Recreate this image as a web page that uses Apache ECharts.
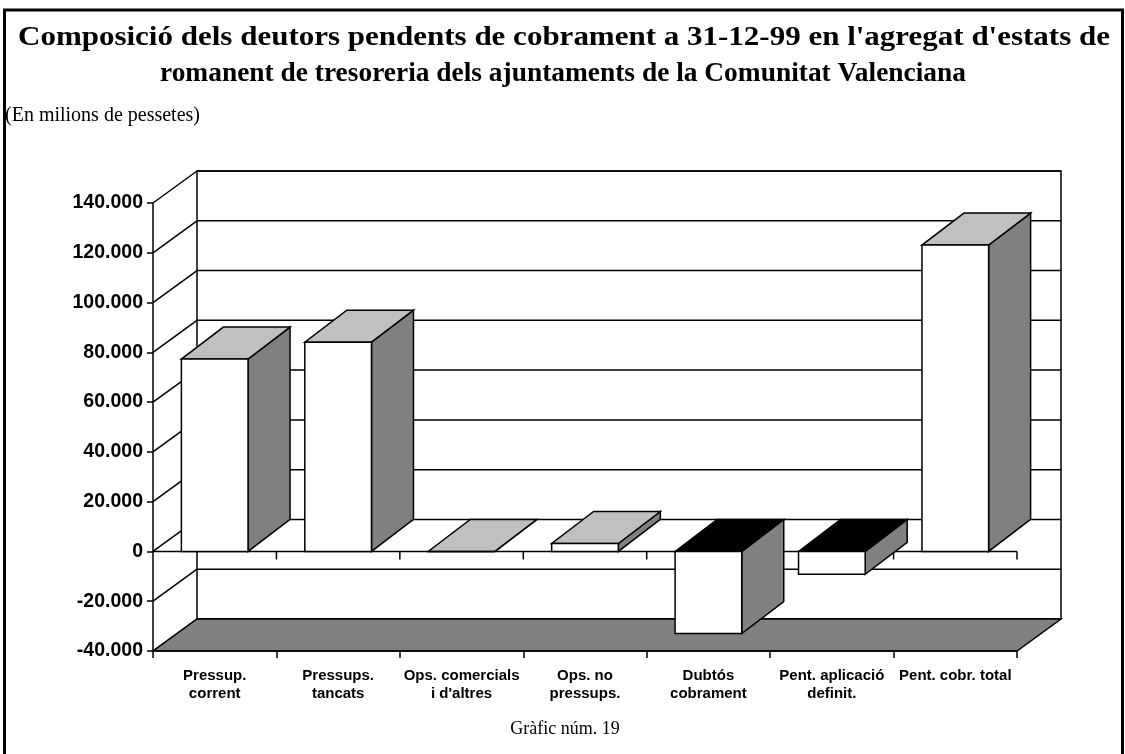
<!DOCTYPE html>
<html>
<head>
<meta charset="utf-8">
<title>Gràfic núm. 19</title>
<script src="https://cdn.jsdelivr.net/npm/echarts@6/dist/echarts.min.js"></script>
<style>
  html, body { margin: 0; padding: 0; background: #fff; }
  #chart { width: 1125px; height: 754px; }
</style>
</head>
<body>
<div id="chart"></div>
<script>
// dades (milions de pessetes)
const categories = [
  'Pressup.\ncorrent',
  'Pressups.\ntancats',
  "Ops. comercials\ni d'altres",
  'Ops. no\npressups.',
  'Dubtós\ncobrament',
  'Pent. aplicació\ndefinit.',
  'Pent. cobr. total'
];
const values = [77300, 84100, 0, 3200, -33000, -9200, 123100];
const yMin = -40000;
const yMax = 140000;
const yStep = 20000;

const titleLines = [
  "Composició dels deutors pendents de cobrament a 31-12-99 en l'agregat d'estats de",
  'romanent de tresoreria dels ajuntaments de la Comunitat Valenciana'
];
const subtitle = '(En milions de pessetes)';
const footer = 'Gràfic núm. 19';

// perspectiva
const DEPTH = [44, -32];
const BAR_DEPTH = [42, -32];
const BAR_RATIO = 0.54;
const LW = 1.5;

const TITLE_FONT = 'bold 27px "Liberation Serif", "Times New Roman", serif';

function fmt(v) {
  const s = String(Math.abs(v)).replace(/\B(?=(\d{3})+(?!\d))/g, '.');
  return (v < 0 ? '-' : '') + s;
}

// línia de títol estirada fins a l'amplada del document original
function titleLine(text, left, right, y) {
  const ctx = document.createElement('canvas').getContext('2d');
  ctx.font = TITLE_FONT;
  const s = (right - left) / ctx.measureText(text).width;
  return {
    type: 'text', x: (left + right) / 2, y: y, z: 100, scaleX: s,
    style: { text: text, textAlign: 'center', textVerticalAlign: 'middle', font: TITLE_FONT, fill: '#000' }
  };
}

function renderFrame(params, api) {
  const cs = params.coordSys;
  const L = cs.x, R = cs.x + cs.width, T = cs.y, B = cs.y + cs.height;
  const dx = DEPTH[0], dy = DEPTH[1];
  const kids = [];
  const line = (x1, y1, x2, y2) => kids.push({
    type: 'line', shape: { x1, y1, x2, y2 }, style: { stroke: '#000', lineWidth: LW }
  });
  // paret del fons
  kids.push({
    type: 'rect',
    shape: { x: L + dx, y: T + dy, width: cs.width, height: cs.height },
    style: { fill: '#fff', stroke: '#000', lineWidth: LW }
  });
  for (let v = yMin; v <= yMax; v += yStep) {
    const y = api.coord([0, v])[1];
    line(L, y, L + dx, y + dy);
    line(L + dx, y + dy, R + dx, y + dy);
  }
  // terra
  kids.push({
    type: 'polygon',
    shape: { points: [[L, B], [R, B], [R + dx, B + dy], [L + dx, B + dy]] },
    style: { fill: '#808080', stroke: '#000', lineWidth: LW }
  });
  // eix de categories a zero
  const y0 = api.coord([0, 0])[1];
  line(L, y0, R, y0);
  const band = api.size([1, 0])[0];
  for (let i = 1; i <= categories.length; i++) {
    const x = L + i * band;
    line(x, y0, x, y0 + 8);
  }
  return { type: 'group', children: kids };
}

function renderBar(params, api) {
  const i = api.value(0), v = api.value(1);
  const top = api.coord([i, Math.max(v, 0)]);
  const bot = api.coord([i, Math.min(v, 0)]);
  const w = api.size([1, 0])[0] * BAR_RATIO;
  const x1 = top[0] - w / 2, x2 = top[0] + w / 2;
  const yT = top[1], yB = bot[1];
  const dx = BAR_DEPTH[0], dy = BAR_DEPTH[1];
  const st = { stroke: '#000', lineWidth: LW, lineJoin: 'miter' };
  return {
    type: 'group',
    children: [
      {
        type: 'polygon',
        shape: { points: [[x2, yT], [x2, yB], [x2 + dx, yB + dy], [x2 + dx, yT + dy]] },
        style: Object.assign({ fill: '#808080' }, st)
      },
      {
        type: 'polygon',
        shape: { points: [[x1, yT], [x2, yT], [x2 + dx, yT + dy], [x1 + dx, yT + dy]] },
        style: Object.assign({ fill: v < 0 ? '#000' : '#c0c0c0' }, st)
      },
      {
        type: 'rect',
        shape: { x: x1, y: yT, width: w, height: yB - yT },
        style: Object.assign({ fill: '#fff' }, st)
      }
    ]
  };
}

const chart = echarts.init(document.getElementById('chart'), null, { renderer: 'canvas' });

chart.setOption({
  backgroundColor: '#fff',
  animation: false,
  grid: { left: 153, right: 108, top: 203, bottom: 103, containLabel: false },
  xAxis: {
    type: 'category',
    data: categories,
    z: 10,
    axisLine: { onZero: false, lineStyle: { color: '#000', width: LW } },
    axisTick: { show: true, length: 7, lineStyle: { color: '#000', width: LW } },
    axisLabel: {
      interval: 0, color: '#000', margin: 16,
      fontFamily: 'Liberation Sans, Arial, sans-serif', fontWeight: 'bold',
      fontSize: 15, lineHeight: 18
    },
    splitLine: { show: false }
  },
  yAxis: {
    type: 'value',
    min: yMin, max: yMax, interval: yStep,
    z: 10,
    axisLine: { show: true, lineStyle: { color: '#000', width: LW } },
    axisTick: { show: true, length: 6, lineStyle: { color: '#000', width: LW } },
    axisLabel: {
      color: '#000', margin: 10,
      fontFamily: 'Liberation Sans, Arial, sans-serif', fontWeight: 'bold',
      fontSize: 19.5, formatter: fmt
    },
    splitLine: { show: false }
  },
  graphic: [
    {
      type: 'rect', z: 100,
      shape: { x: 4.5, y: 10, width: 1118, height: 760 },
      style: { fill: 'none', stroke: '#000', lineWidth: 3 }
    },
    titleLine(titleLines[0], 18, 1110, 38),
    titleLine(titleLines[1], 160, 966, 74),
    {
      type: 'text', x: 5, y: 116, z: 100,
      style: {
        text: subtitle, textAlign: 'left', textVerticalAlign: 'middle',
        font: '20px "Liberation Serif", "Times New Roman", serif', fill: '#000'
      }
    },
    {
      type: 'text', x: 565, y: 729, z: 100,
      style: {
        text: footer, textAlign: 'center', textVerticalAlign: 'middle',
        font: '18px "Liberation Serif", "Times New Roman", serif', fill: '#000'
      }
    }
  ],
  series: [
    {
      type: 'custom',
      name: 'frame',
      z: 1,
      silent: true,
      renderItem: renderFrame,
      data: [[0, 0]]
    },
    {
      type: 'custom',
      name: 'deutors',
      z: 3,
      renderItem: renderBar,
      encode: { x: 0, y: 1 },
      data: values.map((v, i) => [i, v])
    }
  ]
});
</script>
</body>
</html>
